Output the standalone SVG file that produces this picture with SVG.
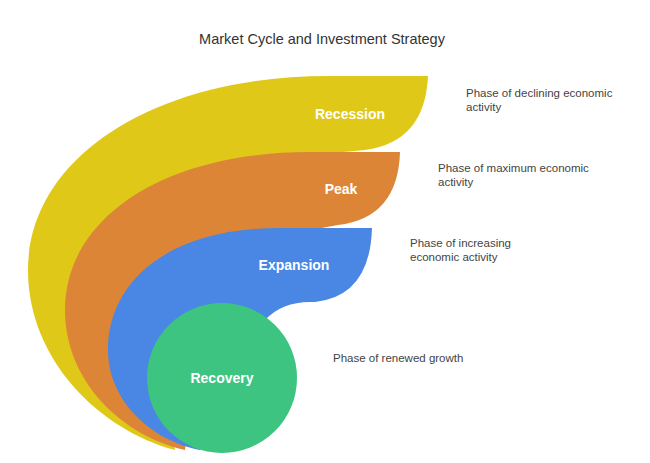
<svg xmlns="http://www.w3.org/2000/svg" width="650" height="463" viewBox="0 0 650 463">
<style>
.t{font-family:"Liberation Sans",Arial,sans-serif;font-size:14px;font-weight:bold;fill:#fff;text-anchor:middle}
.d{font-family:"Liberation Sans",Arial,sans-serif;font-size:11.5px;fill:#444}
</style>
<rect width="650" height="463" fill="#fff"/>
<text x="322" y="44" text-anchor="middle" style="font-family:'Liberation Sans',Arial,sans-serif;font-size:14.5px;fill:#333">Market Cycle and Investment Strategy</text>
<g id="recession">
<path d="M330,76 C150,76 28,160 28,270 C28,360 100,430 175,450 L150,300 L300,156 L365,150 Q425,142 428,76 Z" fill="#DFC817"/>
<text class="t" x="350" y="119">Recession</text>
<text class="d" x="466" y="97">Phase of declining economic</text>
<text class="d" x="466" y="111">activity</text>
</g>
<g id="peak">
<path d="M310,152 C160,152 65,220 65,310 C65,380 120,435 185,450 L200,300 L300,232 L338,225 Q398,218 400,152 Z" fill="#DD8537"/>
<text class="t" x="341" y="194">Peak</text>
<text class="d" x="438" y="172">Phase of maximum economic</text>
<text class="d" x="438" y="186">activity</text>
</g>
<g id="expansion">
<path d="M280,228 C170,228 108,280 108,350 C108,400 150,440 200,450 L222,378 L265,320 Q282,302 310,302 L315,302 Q370,296 372,228 Z" fill="#4A86E4"/>
<text class="t" x="294" y="270">Expansion</text>
<text class="d" x="410" y="247">Phase of increasing</text>
<text class="d" x="410" y="261">economic activity</text>
</g>
<g id="recovery">
<circle cx="222" cy="378" r="75" fill="#3DC480"/>
<text class="t" x="222" y="383">Recovery</text>
<text class="d" x="333" y="362">Phase of renewed growth</text>
</g>
<g id="connectors"/>
</svg>
